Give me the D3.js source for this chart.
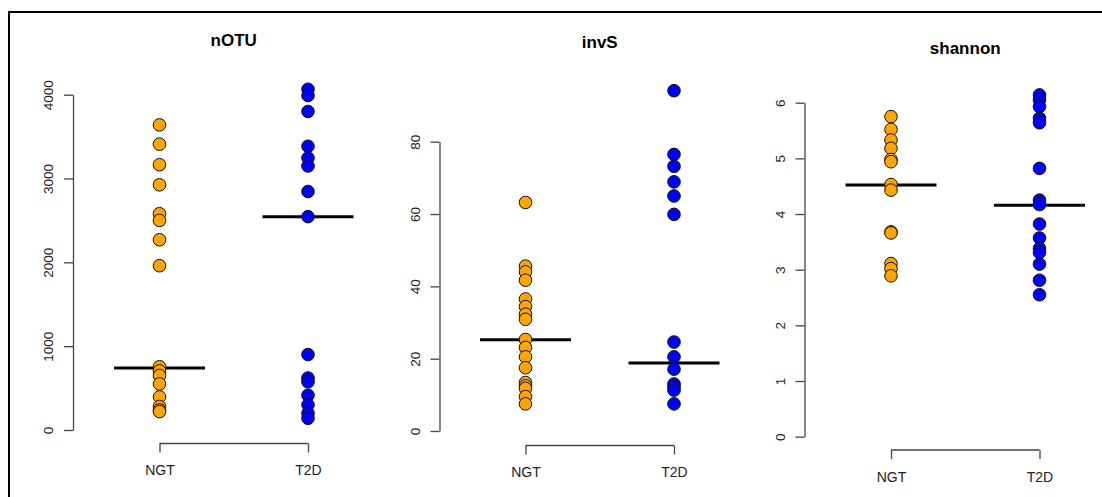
<!DOCTYPE html>
<html>
<head>
<meta charset="utf-8">
<script src="https://cdn.jsdelivr.net/npm/d3@7"></script>
<style>
  body { margin: 0; background: #fff; }
  svg { display: block; font-family: "Liberation Sans", Arial, Helvetica, sans-serif; }
</style>
</head>
<body>
<svg id="chart" width="1102" height="497"></svg>
<script>
// groups and colours
var groups = ["NGT", "T2D"];
var groupColors = ["#FFA500", "#0000FF"];

// nOTU
var notuNGT = [3640, 3410, 3165, 2925, 2580, 2500, 2270, 1960, 755, 705, 650, 550, 395, 280, 240, 220];
var notuT2D = [4065, 3990, 3800, 3385, 3245, 3150, 2845, 2545, 900, 620, 575, 415, 300, 200, 140];
var notuMid = [741, 2544];
var notuTicks = [0, 1000, 2000, 3000, 4000];

// invS
var invsNGT = [63.2, 45.6, 44.0, 41.7, 36.5, 34.4, 32.3, 30.9, 25.3, 23.1, 20.5, 17.5, 13.4, 12.5, 11.8, 9.5, 7.5];
var invsT2D = [94.1, 76.5, 73.2, 68.9, 65.0, 59.9, 24.6, 20.5, 17.1, 13.0, 12.2, 11.3, 7.5];
var invsMid = [25.2, 18.8];
var invsTicks = [0, 20, 40, 60, 80];

// shannon
var shanNGT = [5.75, 5.52, 5.33, 5.18, 4.98, 4.94, 4.53, 4.43, 3.68, 3.66, 3.11, 3.02, 2.89];
var shanT2D = [6.14, 6.05, 5.93, 5.72, 5.64, 4.82, 4.25, 4.17, 3.82, 3.57, 3.38, 3.31, 3.10, 2.81, 2.55];
var shanMid = [4.52, 4.16];
var shanTicks = [0, 1, 2, 3, 4, 5, 6];

var panels = [
  { title: "nOTU", values: [notuNGT, notuT2D], mid: notuMid, ticks: notuTicks,
    axisX: 73, xL: 159.5, xR: 308, y0: 430, y1: 94.7, titleY: 46, bracketY: 443.5, labelY: 475 },
  { title: "invS", values: [invsNGT, invsT2D], mid: invsMid, ticks: invsTicks,
    axisX: 439.5, xL: 525.5, xR: 674, y0: 431, y1: 141.7, titleY: 48, bracketY: 445.5, labelY: 477 },
  { title: "shannon", values: [shanNGT, shanT2D], mid: shanMid, ticks: shanTicks,
    axisX: 804.5, xL: 891, xR: 1039.5, y0: 436.7, y1: 102.7, titleY: 54, bracketY: 450, labelY: 482 }
];

var svg = d3.select("#chart");

// outer frame (only left and top edges visible in the crop)
svg.append("rect")
  .attr("x", 9).attr("y", 12)
  .attr("width", 1200).attr("height", 600)
  .attr("fill", "none").attr("stroke", "#000").attr("stroke-width", 2);

panels.forEach(function(p) {
  var g = svg.append("g");
  var ticks = p.ticks;
  var y = d3.scaleLinear()
    .domain([ticks[0], ticks[ticks.length - 1]])
    .range([p.y0, p.y1]);
  var x = d3.scalePoint().domain(groups).range([p.xL, p.xR]);

  // title
  g.append("text")
    .attr("x", (p.xL + p.xR) / 2).attr("y", p.titleY)
    .attr("text-anchor", "middle")
    .style("font-size", "17px").style("font-weight", "bold")
    .text(p.title);

  // y axis, R style: rotated labels
  var yAxis = d3.axisLeft(y).tickValues(ticks).tickSize(9).tickSizeOuter(0).tickFormat(d3.format("d"));
  var ya = g.append("g").attr("transform", "translate(" + p.axisX + ",0)").call(yAxis);
  ya.select(".domain").attr("stroke", "#444").attr("stroke-width", 1.3);
  ya.selectAll(".tick line").attr("stroke", "#444").attr("stroke-width", 1.3);
  ya.selectAll(".tick text")
    .attr("x", 0).attr("dy", 0)
    .attr("transform", "translate(-20,0) rotate(-90)")
    .attr("text-anchor", "middle")
    .attr("fill", "#222")
    .style("font-size", "13.5px")
    .style("font-family", "'Liberation Sans', Arial, sans-serif");

  // x axis as a bracket between the groups
  var xAxis = d3.axisBottom(x).tickSize(9).tickSizeOuter(0);
  var xa = g.append("g").attr("transform", "translate(0," + p.bracketY + ")").call(xAxis);
  xa.select(".domain").attr("stroke", "#444").attr("stroke-width", 1.3)
    .attr("d", "M" + p.xL + ",0H" + p.xR);
  xa.selectAll(".tick line").attr("stroke", "#444").attr("stroke-width", 1.3);
  xa.selectAll(".tick text")
    .attr("y", p.labelY - p.bracketY).attr("dy", 0)
    .attr("fill", "#222")
    .style("font-size", "14px")
    .style("font-family", "'Liberation Sans', Arial, sans-serif");

  // centre lines
  g.selectAll(".mid").data(p.mid).enter().append("line")
    .attr("x1", function(d, i) { return x(groups[i]) - 45.5; })
    .attr("x2", function(d, i) { return x(groups[i]) + 45.5; })
    .attr("y1", function(d) { return y(d); })
    .attr("y2", function(d) { return y(d); })
    .attr("stroke", "#000").attr("stroke-width", 3);

  // points
  p.values.forEach(function(vals, i) {
    g.selectAll(".pt" + i).data(vals).enter().append("circle")
      .attr("cx", x(groups[i]))
      .attr("cy", function(d) { return y(d); })
      .attr("r", 6.3)
      .attr("fill", groupColors[i])
      .attr("stroke", "#111").attr("stroke-width", 1);
  });
});
</script>
</body>
</html>
